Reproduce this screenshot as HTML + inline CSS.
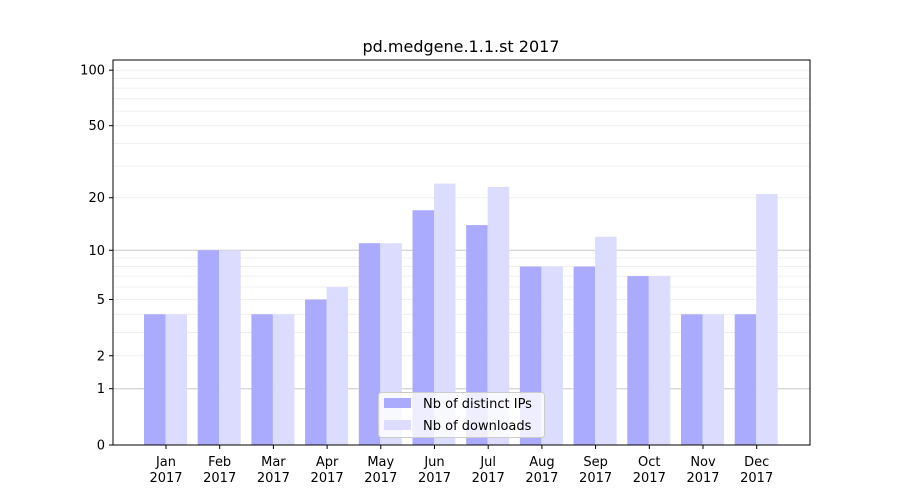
<!DOCTYPE html>
<html><head><meta charset="utf-8"><style>
body{margin:0;background:#fff;font-family:"DejaVu Sans","Liberation Sans",sans-serif}
</style></head><body>
<svg id="c" width="900" height="500" xmlns="http://www.w3.org/2000/svg"></svg>
<script>
const months = ["Jan","Feb","Mar","Apr","May","Jun","Jul","Aug","Sep","Oct","Nov","Dec"];
const ipValues = [4,10,4,5,11,17,14,8,8,7,4,4];
const downloadValues = [4,10,4,6,11,24,23,8,12,7,4,21];
const yTicks = [0,1,2,5,10,20,50,100];
const minorTicks = [2,3,4,5,6,7,8,9,20,30,40,50,60,70,80,90,100];
const majorGrid = [1,10];
const NS="http://www.w3.org/2000/svg";
const svg=document.getElementById('c');
const L=113,R=810,T=60,B=445;
const yScale=v=>B-187*Math.log10(1+v);
const xCenter=i=>166+i*53.7;
function mk(t,a,p){const e=document.createElementNS(NS,t);for(const k in a)e.setAttribute(k,a[k]);(p||svg).appendChild(e);return e;}
const grid=mk('g',{});


minorTicks.forEach(v=>mk('line',{x1:L,x2:R,y1:yScale(v),y2:yScale(v),stroke:'#ebebeb','stroke-width':0.8},grid));
majorGrid.forEach(v=>mk('line',{x1:L,x2:R,y1:yScale(v),y2:yScale(v),stroke:'#c8c8c8','stroke-width':1},grid));
months.forEach((m,i)=>{
 const c=xCenter(i);
 const b1=mk('rect',{x:c-22,y:yScale(ipValues[i]),width:21.5,height:B-yScale(ipValues[i]),fill:'#aaaaff'});
 
 
 const b2=mk('rect',{x:c-0.5,y:yScale(downloadValues[i]),width:21.5,height:B-yScale(downloadValues[i]),fill:'#dcdcfe'});
 
 
 mk('line',{x1:c,x2:c,y1:B,y2:B+4,stroke:'#000'});
 const t=mk('text',{x:c,y:B+21,'text-anchor':'middle','font-size':13});
 t.textContent=m;
 
 
 const t2=mk('text',{x:c,y:B+37,'text-anchor':'middle','font-size':13});
 t2.textContent='2017';
 
 
});
yTicks.forEach(v=>{
 const y=yScale(v);
 mk('line',{x1:L-4,x2:L,y1:y,y2:y,stroke:'#000'});
 const t=mk('text',{x:L-8,y:y+4.5,'text-anchor':'end','font-size':13});
 t.textContent=v;
 
 
});
const frame=mk('rect',{x:L,y:T,width:R-L,height:B-T,fill:'none',stroke:'#000','stroke-width':1});


const title=mk('text',{x:461,y:52,'text-anchor':'middle','font-size':16});
title.textContent='pd.medgene.1.1.st 2017';


const lg=mk('g',{});


mk('rect',{x:378.5,y:392.5,width:166,height:45,rx:3,fill:'#fff','fill-opacity':0.8,stroke:'#ccc'},lg);
mk('rect',{x:384,y:398,width:27,height:10,fill:'#aaaaff'},lg);
mk('rect',{x:384,y:420,width:27,height:10,fill:'#dcdcfe'},lg);
const l1=mk('text',{x:423,y:408,'font-size':13},lg);l1.textContent='Nb of distinct IPs';


const l2=mk('text',{x:423,y:430,'font-size':13},lg);l2.textContent='Nb of downloads';


</script>
</body></html>
